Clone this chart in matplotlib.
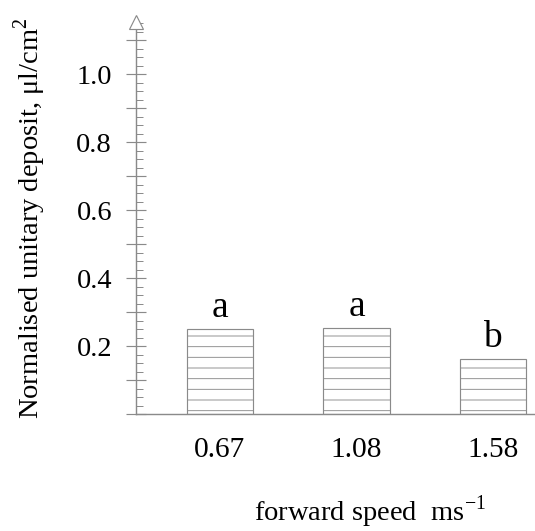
import matplotlib.pyplot as plt
from matplotlib.ticker import MultipleLocator, FuncFormatter

speeds = ['0.67', '1.08', '1.58']
deposit = [0.25, 0.253, 0.162]
groups = ['a', 'a', 'b']

DPI = 64
plt.rcParams['font.family'] = ['Liberation Serif', 'DejaVu Serif']
plt.rcParams['hatch.color'] = '#8a8a8a'
plt.rcParams['hatch.linewidth'] = 1.0

fig = plt.figure(figsize=(535 / DPI, 531 / DPI), dpi=DPI)
ax = fig.add_axes([136 / 535, 1 - 414 / 531, 1 - 136 / 535, (414 - 22) / 531])

grey = '#8a8a8a'
x = range(len(speeds))
bars = ax.bar(x, deposit, width=0.49, color='white', edgecolor=grey,
              linewidth=1.3, hatch='-')

for xi, v, g in zip(x, deposit, groups):
    ax.text(xi, v + 0.012, g, ha='center', va='bottom', fontsize=42)

ax.set_xlim(-0.615, 2.308)
ax.set_ylim(0, 1.153)

ax.set_xticks(list(x))
ax.set_xticklabels(speeds, fontsize=33)
ax.tick_params(axis='x', length=0, pad=26)

ax.yaxis.set_major_locator(MultipleLocator(0.1))
ax.yaxis.set_minor_locator(MultipleLocator(0.025))
ax.yaxis.set_major_formatter(FuncFormatter(
    lambda v, p: f'{v:.1f}' if round(v * 10) % 2 == 0 and 0.1 < v < 1.05 else ''))
ax.tick_params(axis='y', which='major', direction='inout', length=22,
               width=1.3, color=grey, labelsize=32, pad=16)
ax.tick_params(axis='y', which='minor', direction='in', length=8,
               width=1.1, color=grey)

for s in ['top', 'right']:
    ax.spines[s].set_visible(False)
for s in ['left', 'bottom']:
    ax.spines[s].set_color(grey)
    ax.spines[s].set_linewidth(1.6)

# open arrow head at top of y axis
ax.plot([0], [1], marker='^', markersize=15, markerfacecolor='white',
        markeredgecolor=grey, markeredgewidth=1.3,
        transform=ax.transAxes, clip_on=False, zorder=5)

fig.text(370 / 535, 1 - 521 / 531, 'forward speed  ms$^{\\mathregular{-1}}$',
         ha='center', va='baseline', fontsize=32)
fig.text(30 / 535, 1 - 218 / 531, 'Normalised unitary deposit, μl/cm$^{\\mathregular{2}}$',
         rotation=90, ha='center', va='center', fontsize=32)

fig.savefig('out.png', dpi=DPI)
